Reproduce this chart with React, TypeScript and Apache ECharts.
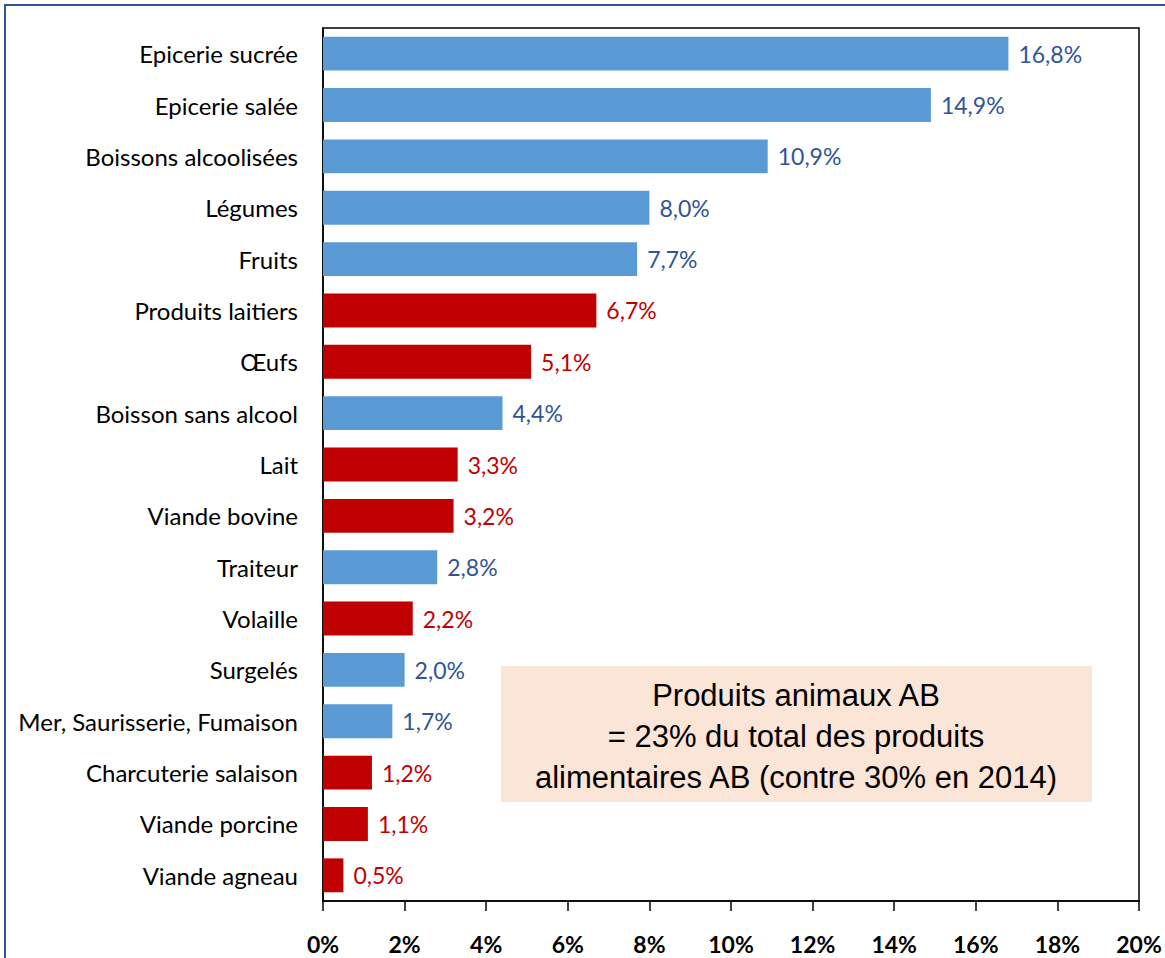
import React, { useEffect, useRef } from "react";
import * as echarts from "echarts";

const categories = [
  "Epicerie sucrée",
  "Epicerie salée",
  "Boissons alcoolisées",
  "Légumes",
  "Fruits",
  "Produits laitiers",
  "Œufs",
  "Boisson sans alcool",
  "Lait",
  "Viande bovine",
  "Traiteur",
  "Volaille",
  "Surgelés",
  "Mer, Saurisserie, Fumaison",
  "Charcuterie salaison",
  "Viande porcine",
  "Viande agneau",
];
const values = [16.8, 14.9, 10.9, 8.0, 7.7, 6.7, 5.1, 4.4, 3.3, 3.2, 2.8, 2.2, 2.0, 1.7, 1.2, 1.1, 0.5];
// true = produit animal (rouge)
const animal = [false, false, false, false, false, true, true, false, true, true, false, true, false, false, true, true, true];
const xTicks = [0, 2, 4, 6, 8, 10, 12, 14, 16, 18, 20];
const noteLines = [
  "Produits animaux AB",
  "= 23% du total des produits",
  "alimentaires AB (contre 30% en 2014)",
];

const BLUE = "#5B9BD5";
const RED = "#C00000";
const BLUE_TXT = "#2F5597";

export default function App() {
  const ref = useRef<HTMLDivElement>(null);
  useEffect(() => {
    if (!ref.current) return;
    const chart = echarts.init(ref.current, undefined, { renderer: "svg" });
    const data = values.map((v, i) => ({
      value: v,
      itemStyle: { color: animal[i] ? RED : BLUE },
      label: { color: animal[i] ? RED : BLUE_TXT },
    }));
    chart.setOption({
      animation: false,
      backgroundColor: "#ffffff",
      grid: {
        left: 323,
        right: 26,
        top: 28,
        bottom: 57,
        show: true,
        borderColor: "#000",
        borderWidth: 1.5,
        backgroundColor: "transparent",
      },
      xAxis: {
        type: "value",
        min: xTicks[0],
        max: xTicks[xTicks.length - 1],
        interval: 2,
        axisLine: { show: true, lineStyle: { color: "#000", width: 1.5 } },
        axisTick: { show: true, length: 10, lineStyle: { color: "#000", width: 1.5 } },
        splitLine: { show: false },
        axisLabel: {
          margin: 31,
          fontFamily: "Lato",
          fontWeight: "bold",
          fontSize: 23,
          color: "#000",
          formatter: (v: number) => `${v}%`,
        },
      },
      yAxis: {
        type: "category",
        inverse: true,
        data: categories,
        axisLine: { show: true, lineStyle: { color: "#000", width: 1.5 } },
        axisTick: { show: false },
        axisLabel: {
          margin: 25,
          fontFamily: "Lato",
          fontSize: 24,
          color: "#000",
        },
      },
      series: [
        {
          type: "bar",
          data,
          barWidth: "66%",
          label: {
            show: true,
            position: "right",
            distance: 10,
            fontFamily: "Lato",
            fontSize: 23,
            formatter: (p: any) => `${Number(p.value).toFixed(1).replace(".", ",")}%`,
          },
        },
      ],
      graphic: [
        {
          type: "rect",
          shape: { x: 5, y: 5, width: 1200, height: 1000 },
          style: { fill: "none", stroke: "#2F5597", lineWidth: 2 },
          silent: true,
        },
        {
          type: "rect",
          shape: { x: 501, y: 666, width: 591, height: 136 },
          style: { fill: "#FBE5D6" },
          silent: true,
        },
        ...noteLines.map((t, i) => ({
          type: "text",
          x: 796,
          y: 695 + i * 41,
          style: {
            text: t,
            fill: "#000",
            font: "31px 'Liberation Sans', Arial, sans-serif",
            textAlign: "center",
            textVerticalAlign: "middle",
          },
          silent: true,
        })),
      ],
    });
    return () => chart.dispose();
  }, []);
  return (
    <div
      ref={ref}
      style={{ position: "fixed", left: 0, top: 0, width: 1165, height: 958 }}
    />
  );
}
